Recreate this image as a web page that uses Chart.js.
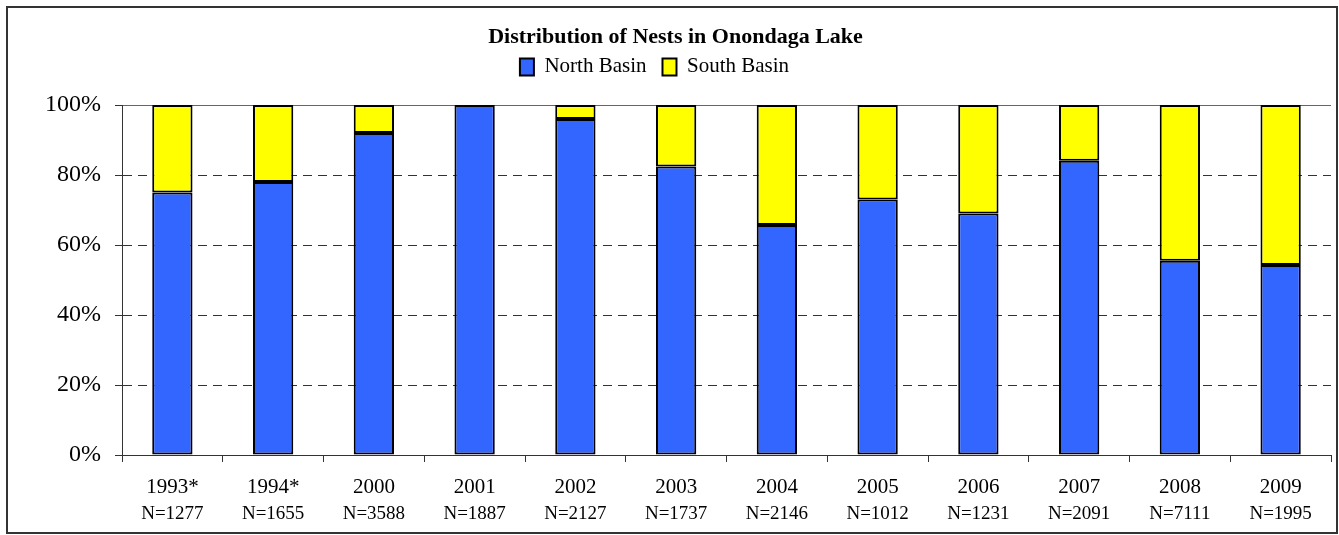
<!DOCTYPE html>
<html>
<head>
<meta charset="utf-8">
<script src="https://cdn.jsdelivr.net/npm/chart.js@4"></script>
<style>
  html, body { margin: 0; padding: 0; background: #fff; }
  #c { display: block; }
</style>
</head>
<body>
<canvas id="c" width="1339" height="535"></canvas>
<script>
// ---- data ----
const years = ['1993*', '1994*', '2000', '2001', '2002', '2003', '2004', '2005', '2006', '2007', '2008', '2009'];
const nLabels = ['N=1277', 'N=1655', 'N=3588', 'N=1887', 'N=2127', 'N=1737', 'N=2146', 'N=1012', 'N=1231', 'N=2091', 'N=7111', 'N=1995'];
const northBasin = [75, 78, 92, 100, 96, 82.4, 65.7, 73, 69, 84.1, 55.5, 54.3];
const southBasin = [25, 22, 8, 0, 4, 17.6, 34.3, 27, 31, 15.9, 44.5, 45.7];
const yTicks = [0, 20, 40, 60, 80, 100];

const SERIF = "'Liberation Serif', 'Times New Roman', Times, serif";
const CHART_TOP = 105;
const TITLE_PAD_TOP = 24;
const TITLE_PAD_BOTTOM = -10;
const TITLE_H = 22 * 1.2 + TITLE_PAD_TOP + TITLE_PAD_BOTTOM;
const TITLE_SHIFT = 10;
const LEGEND_SHIFT = -11;

function shiftDraw(box, dx) {
  if (!box || box._shifted) return;
  const d = box.draw;
  box.draw = function () {
    const l = this.left, r = this.right;
    this.left = l + dx; this.right = r + dx;
    d.apply(this, arguments);
    this.left = l; this.right = r;
  };
  box._shifted = true;
}

const framePlugin = {
  id: 'frame',
  beforeLayout(chart) {
    const lg = chart.legend;
    if (lg && !lg._patched) {
      const f = lg.fit;
      lg.fit = function () {
        f.apply(this, arguments);
        this.height = CHART_TOP - TITLE_H;
      };
      lg._patched = true;
    }
    shiftDraw(chart.legend, LEGEND_SHIFT);
    shiftDraw(chart.titleBlock, TITLE_SHIFT);
  },
  afterDraw(chart) {
    const ctx = chart.ctx;
    ctx.save();
    ctx.strokeStyle = '#333';
    ctx.lineWidth = 2;
    ctx.strokeRect(7, 7, 1330, 526);
    ctx.restore();
  }
};

new Chart(document.getElementById('c'), {
  type: 'bar',
  data: {
    labels: years,
    datasets: [
      {
        label: 'North Basin',
        data: northBasin,
        backgroundColor: '#3366FF',
        borderColor: '#000',
        borderWidth: 2,
        borderSkipped: false,
        barPercentage: 0.4,
        categoryPercentage: 1.0
      },
      {
        label: 'South Basin',
        data: southBasin,
        backgroundColor: '#FFFF00',
        borderColor: '#000',
        borderWidth: 2,
        borderSkipped: false,
        barPercentage: 0.4,
        categoryPercentage: 1.0
      }
    ]
  },
  options: {
    responsive: false,
    animation: false,
    devicePixelRatio: 1,
    layout: { padding: { left: 0, right: 8, top: 0, bottom: 0 } },
    plugins: {
      title: {
        display: true,
        text: 'Distribution of Nests in Onondaga Lake',
        color: '#000',
        font: { family: SERIF, size: 22, weight: 'bold', lineHeight: 1.2 },
        padding: { top: TITLE_PAD_TOP, bottom: TITLE_PAD_BOTTOM }
      },
      legend: {
        display: true,
        position: 'top',
        labels: {
          color: '#000',
          font: { family: SERIF, size: 21 },
          boxWidth: 14,
          boxHeight: 17,
          padding: 16
        }
      },
      tooltip: { enabled: false }
    },
    scales: {
      x: {
        type: 'category',
        stacked: true,
        offset: true,
        weight: 0,
        grid: {
          display: true,
          offset: true,
          drawOnChartArea: false,
          drawTicks: true,
          tickLength: 7,
          tickColor: '#333',
          color: '#333'
        },
        border: { display: true, color: '#333', width: 1 },
        ticks: {
          color: '#000',
          font: { family: SERIF, size: 21 },
          padding: 13,
          autoSkip: false,
          maxRotation: 0
        },
        afterFit(scale) { scale.height = 45; }
      },
      x2: {
        type: 'category',
        labels: nLabels,
        position: 'bottom',
        offset: true,
        weight: 1,
        grid: { display: false, drawTicks: false },
        border: { display: false },
        ticks: {
          color: '#000',
          font: { family: SERIF, size: 19 },
          padding: 3,
          autoSkip: false,
          maxRotation: 0
        },
        afterFit(scale) { scale.height = 35; }
      },
      y: {
        stacked: true,
        min: 0,
        max: 100,
        afterBuildTicks(scale) {
          scale.ticks = yTicks.map(v => ({ value: v }));
        },
        grid: {
          color: (ctx) => (ctx.tick && ctx.tick.value === 100) ? '#666' : '#333',
          lineWidth: 1,
          drawTicks: true,
          tickLength: 7,
          tickColor: '#333'
        },
        border: {
          display: true,
          color: '#333',
          width: 1,
          dash: (ctx) => (ctx.tick && ctx.tick.value === 100) ? [] : [9, 6]
        },
        ticks: {
          color: '#000',
          font: { family: SERIF, size: 24 },
          padding: 14,
          callback: (v) => v + '%'
        },
        afterFit(scale) { scale.width = 122; }
      }
    }
  },
  plugins: [framePlugin]
});
</script>
</body>
</html>
